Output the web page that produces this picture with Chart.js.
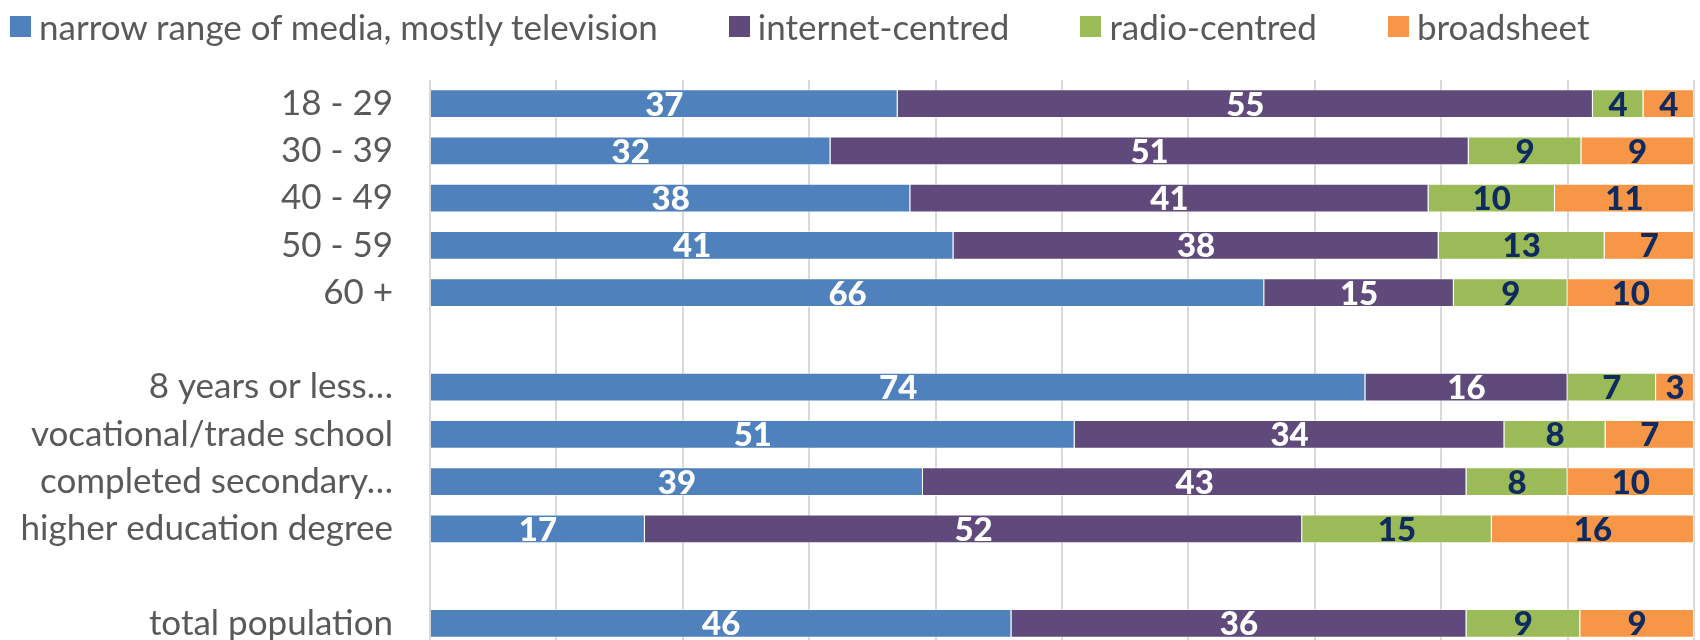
<!DOCTYPE html>
<html>
<head>
<meta charset="utf-8">
<script src="https://cdn.jsdelivr.net/npm/chart.js@4"></script>
<style>
  html, body { margin: 0; padding: 0; background: #fff; overflow: hidden; width: 1700px; height: 640px; }
  #wrap { position: absolute; left: 0; top: 0; width: 1700px; height: 648px; }
  #legend { position: absolute; left: 10px; top: 5px; display: flex; gap: 71px; z-index: 2;
            font-family: Lato, sans-serif; font-size: 35px; color: #595959; }
  #legend .item { display: flex; align-items: center; }
  #legend .box { width: 21px; height: 21px; margin-right: 8px; }
</style>
</head>
<body>
<div id="legend"></div>
<div id="wrap"><canvas id="chart" width="1700" height="648"></canvas></div>
<script>
const categories = ["18 - 29", "30 - 39", "40 - 49", "50 - 59", "60 +", "",
  "8 years or less\u2026", "vocational/trade school", "completed secondary\u2026", "higher education degree", "",
  "total population"];
const seriesNames = ["narrow range of media, mostly television", "internet-centred", "radio-centred", "broadsheet"];
const television = [37, 32, 38, 41, 66, null, 74, 51, 39, 17, null, 46];
const internet   = [55, 51, 41, 38, 15, null, 16, 34, 43, 52, null, 36];
const radio      = [4, 9, 10, 13, 9, null, 7, 8, 8, 15, null, 9];
const broadsheet = [4, 9, 11, 7, 10, null, 3, 7, 10, 16, null, 9];
const colors = ["#4f81bd", "#604a7b", "#9bbb59", "#f79646"];
const labelColors = ["#ffffff", "#ffffff", "#0f2a5f", "#0f2a5f"];

const series = [television, internet, radio, broadsheet];
// 100% stacked: share of each row total
const rowSums = categories.map((c, i) => series.reduce((s, arr) => s + (arr[i] || 0), 0));
const shares = series.map(arr => arr.map((v, i) => v == null ? null : v / rowSums[i] * 100));

const legend = document.getElementById('legend');
seriesNames.forEach((name, i) => {
  legend.innerHTML += `<div class="item"><span class="box" style="background:${colors[i]}"></span><span>${name}</span></div>`;
});

const valueLabels = {
  id: 'valueLabels',
  afterDatasetsDraw(chart) {
    const ctx = chart.ctx;
    ctx.save();
    ctx.font = '900 33px Lato, sans-serif';
    ctx.textAlign = 'center';
    ctx.textBaseline = 'alphabetic';
    chart.data.datasets.forEach((ds, di) => {
      const meta = chart.getDatasetMeta(di);
      ctx.fillStyle = labelColors[di];
      meta.data.forEach((el, i) => {
        const v = series[di][i];
        if (v == null) return;
        ctx.fillText(String(v), (el.x + el.base) / 2, el.y + 12);
      });
    });
    ctx.restore();
  }
};

new Chart(document.getElementById('chart'), {
  type: 'bar',
  data: {
    labels: categories,
    datasets: shares.map((d, i) => ({
      label: seriesNames[i],
      data: d,
      backgroundColor: colors[i],
      borderColor: 'rgba(255,255,255,0.5)',
      borderWidth: 1,
      barPercentage: 1,
      categoryPercentage: 0.613
    }))
  },
  options: {
    indexAxis: 'y',
    responsive: false,
    animation: false,
    layout: { padding: { top: 80, right: 6, bottom: 1, left: 0 } },
    plugins: { legend: { display: false }, tooltip: { enabled: false } },
    scales: {
      x: {
        stacked: true, min: 0, max: 100,
        ticks: { display: false, stepSize: 10 },
        grid: { color: '#d9d9d9', lineWidth: 2, drawTicks: false },
        border: { display: false },
        afterFit(scale) { scale.height = 0; }
      },
      y: {
        stacked: true,
        grid: { display: false, drawTicks: false },
        border: { display: false },
        ticks: { color: '#595959', font: { family: 'Lato', size: 35 }, padding: 37, autoSkip: false },
        afterFit(scale) {
          scale.width = 430;
          scale.paddingTop = 0;
          scale.paddingBottom = 0;
        }
      }
    }
  },
  plugins: [valueLabels]
});
</script>
</body>
</html>
